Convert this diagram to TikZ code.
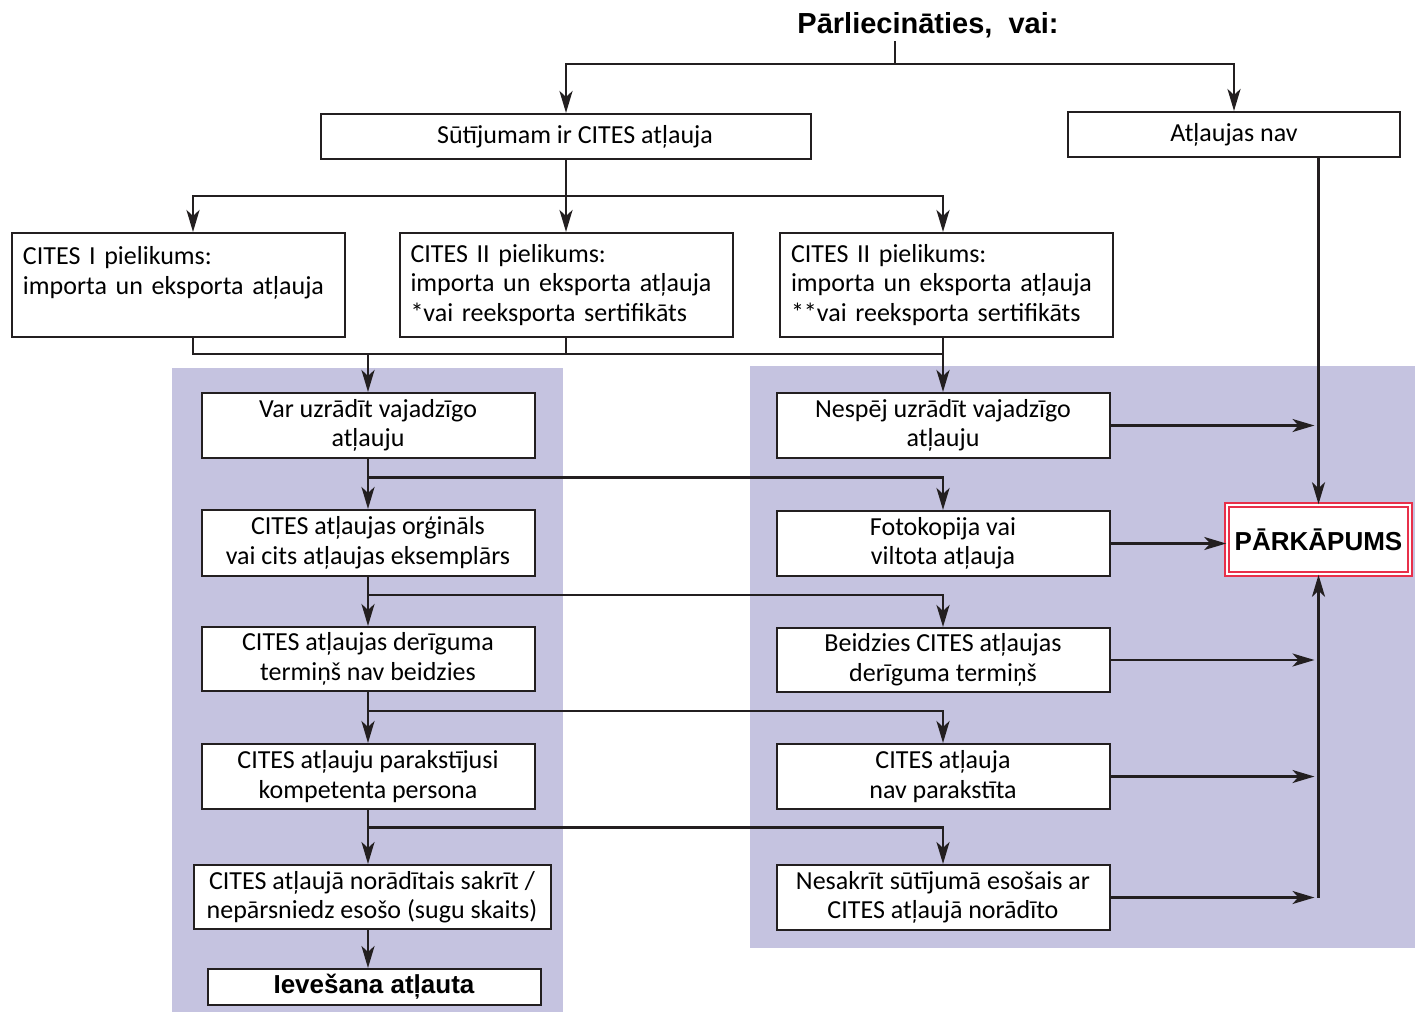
\documentclass[tikz,border=0pt]{standalone}
\usepackage{fontspec}
\setmainfont{Carlito}
\newfontfamily\arialfont{Liberation Sans}
\usepackage{tikz}
\usetikzlibrary{arrows.meta}
\usetikzlibrary{calc}
\usetikzlibrary{positioning}
\definecolor{myblack}{HTML}{231F20}
\definecolor{mypanel}{HTML}{C5C3E0}
\definecolor{myred}{HTML}{E8304A}
\newcommand\boxfont{\fontsize{26}{29.5}\selectfont}
\newcommand\titlefont{\arialfont\bfseries\fontsize{29}{33}\selectfont}
\newcommand\boldfont{\arialfont\bfseries\fontsize{26}{29}\selectfont}
\tikzset{node distance=50pt, every node/.style={font=\boxfont, text=black}}
\tikzstyle{block} = [draw=myblack, fill=white, line width=2pt, inner sep=0pt, align=center, minimum width=333pt, minimum height=65pt]
\tikzstyle{annex} = [block, align=left, text width=311pt, inner xsep=11pt, minimum height=104pt]
\tikzstyle{violation} = [draw=myred, double=white, double distance=2.4pt, line width=1.6pt, fill=white, inner sep=0pt, minimum width=183pt, minimum height=69pt, font=\boldfont]
\tikzstyle{lnplain} = [draw=myblack, line width=2.7pt]
\tikzstyle{ln} = [lnplain, -{Stealth[length=22pt, width=13pt, inset=6pt]}]
\tikzstyle{panel} = [fill=mypanel]

\begin{document}
\begin{tikzpicture}[x=1pt, y=-1pt]
  \useasboundingbox (0,0) rectangle (1415,1012);
  % shaded areas
  \fill[panel] (172,368) rectangle (563,1012);
  \fill[panel] (750,366) rectangle (1415,948);

  % top
  \node[font=\titlefont] (title) at (928,25) {Pārliecināties,~~vai:};
  \node[block, minimum width=490pt, minimum height=45pt] (permit) at (566,136.5) {\hspace*{18pt}Sūtījumam ir CITES atļauja};
  \node[block, minimum width=332pt, minimum height=45pt] (nopermit) at (1234,134.5) {Atļaujas nav};
  \node[annex] (app1) at (178.5,285) {CITES I pielikums:\\importa un eksporta atļauja\\\mbox{}};
  \node[annex] (app2) at (566,285) {CITES II pielikums:\\importa un eksporta atļauja\\{}*vai reeksporta sertifikāts};
  \node[annex] (app3) at (946.5,285) {CITES II pielikums:\\importa un eksporta atļauja\\{}**vai reeksporta sertifikāts};

  % left column
  \node[block] (shown) at (368,425.5) {Var uzrādīt vajadzīgo\\atļauju};
  \node[block, below=of shown, minimum height=66pt] (original) {CITES atļaujas orģināls\\vai cits atļaujas eksemplārs};
  \node[block, below=49pt of original, minimum height=64pt] (valid) {CITES atļaujas derīguma\\termiņš nav beidzies};
  \node[block, below=51pt of valid] (signed) {CITES atļauju parakstījusi\\kompetenta persona};
  \node[block, below=54pt of signed, xshift=4pt, minimum width=357pt, minimum height=64pt] (match) {CITES atļaujā norādītais sakrīt /\\nepārsniedz esošo (sugu skaits)};
  \node[block, below=38pt of match, xshift=2pt, minimum height=36pt, font=\boldfont] (allowed) {Ievešana atļauta};

  % right column
  \node[block] (cannot) at (943,425.5) {Nespēj uzrādīt vajadzīgo\\atļauju};
  \node[block, below=51pt of cannot] (copy) {Fotokopija vai\\viltota atļauja};
  \node[block, below=50pt of copy, minimum height=64pt] (expired) {Beidzies CITES atļaujas\\derīguma termiņš};
  \node[block, below=50pt of expired] (unsigned) {CITES atļauja\\nav parakstīta};
  \node[block, below=54pt of unsigned] (mismatch) {Nesakrīt sūtījumā esošais ar\\CITES atļaujā norādīto};
  \node[violation] (breach) at (1318.5,539.5) {PĀRKĀPUMS};

  % connectors, top
  \coordinate (split0) at (895,64);
  \draw[lnplain] (title.south -| split0) -- (split0);
  \draw[ln] (split0) -| (permit);
  \draw[ln] (split0) -| (nopermit);
  \coordinate (split1) at ($(permit.south)+(0,36)$);
  \coordinate (in1) at ([xshift=14.5pt]app1.north);
  \draw[lnplain] (permit) -- (split1);
  \draw[ln] (split1) -| (in1);
  \draw[ln] (split1) -- (app2);
  \draw[ln] (split1) -| (app3.north -| cannot.north);
  \coordinate (merge) at ($(app2.south)+(0,16)$);
  \draw[lnplain] (app1.south -| in1) |- (merge) -| (app3.south -| cannot.north);
  \draw[lnplain] (app2) -- (merge);
  \draw[ln] (merge -| shown.north) -- (shown);
  \draw[ln] (merge -| cannot.north) -- (cannot);

  % connectors, columns
  \coordinate (fork1) at ($(shown.south)!0.37!(original.north)$);
  \draw[ln] (shown) -- (original);
  \draw[ln] (fork1) -| (copy);
  \coordinate (fork2) at ($(original.south)!0.37!(valid.north)$);
  \draw[ln] (original) -- (valid);
  \draw[ln] (fork2) -| (expired);
  \coordinate (fork3) at ($(valid.south)!0.37!(signed.north)$);
  \draw[ln] (valid) -- (signed);
  \draw[ln] (fork3) -| (unsigned);
  \coordinate (fork4) at ($(signed.south)!0.33!(signed.south |- match.north)$);
  \draw[ln] (signed) -- (signed.south |- match.north);
  \draw[ln] (fork4) -| (mismatch);
  \draw[ln] (match.south -| signed.south) -- (allowed.north -| signed.south);

  % connectors, right
  \draw[ln] (nopermit.south -| breach.north) -- (breach);
  \draw[ln, shorten >=4pt] (cannot) -- (cannot -| breach.north);
  \draw[ln] (copy.east) -- (copy.east -| breach.west);
  \draw[ln, shorten >=4pt] (expired) -- (expired -| breach.north);
  \draw[ln, shorten >=4pt] (unsigned) -- (unsigned -| breach.north);
  \draw[ln, shorten >=4pt] (mismatch) -- (mismatch -| breach.north);
  \draw[ln] (mismatch -| breach.south) -- (breach);
\end{tikzpicture}
\end{document}
